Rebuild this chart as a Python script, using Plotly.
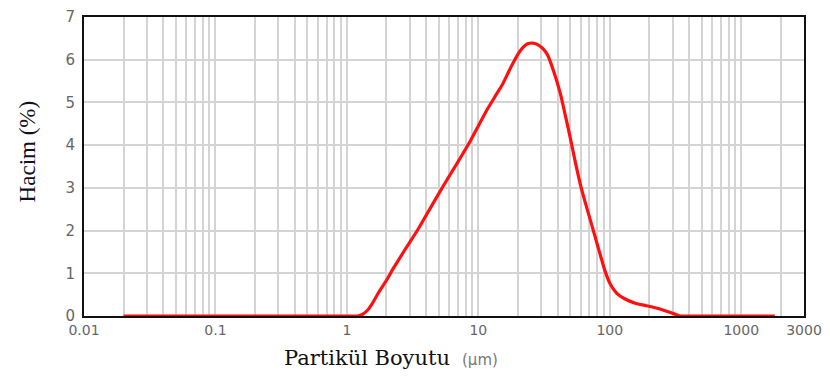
import plotly.graph_objects as go
import numpy as np

# Particle size (µm) and volume (%)
size_um = [0.02, 0.1, 0.5, 1.0, 1.21, 1.33, 1.44, 1.58, 1.72, 2.05, 2.23, 2.8, 3.46, 4.3, 5.35,
           6.9, 8.73, 10.0, 11.7, 13.4, 15.3, 17.0, 18.8, 20.5, 22.4, 24.0, 25.8, 28.0, 30.7,
           33.5, 37.5, 42.1, 46.0, 50.1, 54.5, 59.6, 65.0, 71.0, 77.5, 84.6, 92.0, 100.7,
           113.0, 128.5, 156.0, 190.0, 230.0, 270.0, 309.0, 342.0, 500.0, 1000.0, 1800.0]
volume_pct = [0.0, 0.0, 0.0, 0.0, 0.0, 0.05, 0.14, 0.32, 0.52, 0.89, 1.09, 1.58, 2.02, 2.52, 3.02,
              3.58, 4.11, 4.45, 4.84, 5.14, 5.43, 5.72, 5.98, 6.18, 6.32, 6.38, 6.39, 6.36, 6.27,
              6.12, 5.72, 5.2, 4.68, 4.16, 3.62, 3.09, 2.66, 2.25, 1.84, 1.43, 1.05, 0.75,
              0.53, 0.41, 0.3, 0.24, 0.18, 0.11, 0.05, 0.0, 0.0, 0.0, 0.0]

x_tickvals = [0.01, 0.1, 1, 10, 100, 1000, 3000]
x_ticktext = ["0.01", "0.1", "1", "10", "100", "1000", "3000"]
y_tickvals = [0, 1, 2, 3, 4, 5, 6, 7]

minor_vals = [m * 10.0 ** e for e in range(-2, 4) for m in range(2, 10)]
minor_vals = [v for v in minor_vals if v <= 2000]

fig = go.Figure()
fig.add_trace(go.Scatter(x=size_um, y=volume_pct, mode="lines",
                         line=dict(color="#ff1010", width=3.2, shape="spline", smoothing=0.5),
                         hoverinfo="skip", showlegend=False))

fig.update_layout(
    width=830, height=378,
    margin=dict(l=84, r=24, t=8, b=62),
    paper_bgcolor="white", plot_bgcolor="white",
    showlegend=False,
    xaxis=dict(type="log", range=[-2, np.log10(3000)],
               tickvals=x_tickvals, ticktext=x_ticktext, ticks="",
               tickfont=dict(family="DejaVu Sans", size=14, color="#666666"),
               showgrid=True, gridcolor="#d4d4d4", gridwidth=1.5,
               minor=dict(tickvals=minor_vals, showgrid=True, gridcolor="#d4d4d4", gridwidth=1.5, ticks=""),
               showline=True, linecolor="#111111", linewidth=2, mirror=True,
               zeroline=False),
    yaxis=dict(range=[0, 7], tickvals=y_tickvals, ticks="",
               tickfont=dict(family="DejaVu Sans", size=15, color="#666666"),
               showgrid=True, gridcolor="#d4d4d4", gridwidth=1.5,
               showline=True, linecolor="#111111", linewidth=2, mirror=True,
               zeroline=False, ticklabelstandoff=4),
)

fig.add_annotation(text="Hacim (%)", xref="paper", yref="paper", x=-0.078, y=0.55,
                   textangle=-90, showarrow=False, xanchor="center", yanchor="middle",
                   font=dict(family="Liberation Serif", size=23, color="#111122"))
fig.add_annotation(text="Partikül Boyutu", xref="paper", yref="paper", x=0.393, y=-0.095,
                   showarrow=False, xanchor="center", yanchor="top",
                   font=dict(family="DejaVu Serif", size=21, color="#111111"))
fig.add_annotation(text="(µm)", xref="paper", yref="paper", x=0.55, y=-0.11,
                   showarrow=False, xanchor="center", yanchor="top",
                   font=dict(family="DejaVu Sans", size=15, color="#777777"))

fig.write_html("out.html")
